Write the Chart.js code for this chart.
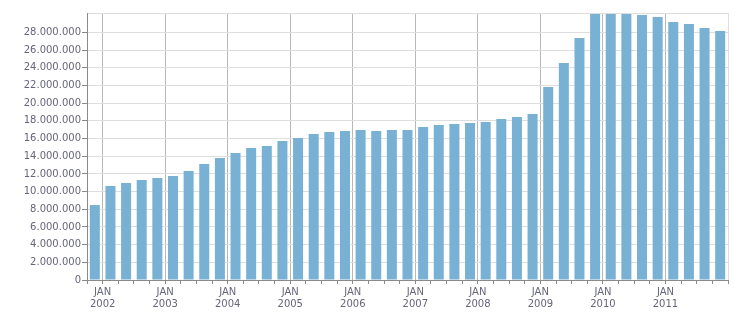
<!DOCTYPE html>
<html>
<head>
<meta charset="utf-8">
<style>
  html, body { margin: 0; padding: 0; background: #fff; }
  #wrap { width: 751px; height: 313px; }
</style>
<script src="https://cdn.jsdelivr.net/npm/chart.js@4/dist/chart.umd.min.js"></script>
</head>
<body>
<div id="wrap"><canvas id="chart" width="751" height="313"></canvas></div>
<script>
// Quarterly values, Q4 2001 .. Q4 2011
const quarters = [
  '2001 Q4',
  '2002 Q1', '2002 Q2', '2002 Q3', '2002 Q4',
  '2003 Q1', '2003 Q2', '2003 Q3', '2003 Q4',
  '2004 Q1', '2004 Q2', '2004 Q3', '2004 Q4',
  '2005 Q1', '2005 Q2', '2005 Q3', '2005 Q4',
  '2006 Q1', '2006 Q2', '2006 Q3', '2006 Q4',
  '2007 Q1', '2007 Q2', '2007 Q3', '2007 Q4',
  '2008 Q1', '2008 Q2', '2008 Q3', '2008 Q4',
  '2009 Q1', '2009 Q2', '2009 Q3', '2009 Q4',
  '2010 Q1', '2010 Q2', '2010 Q3', '2010 Q4',
  '2011 Q1', '2011 Q2', '2011 Q3', '2011 Q4'
];

const values = [
  8480000,
  10630000, 10970000, 11310000, 11540000,
  11760000, 12330000, 13120000, 13800000,
  14360000, 14930000, 15160000, 15720000,
  16060000, 16510000, 16740000, 16850000,
  16970000, 16850000, 16970000, 16970000,
  17310000, 17530000, 17650000, 17760000,
  17870000, 18210000, 18440000, 18780000,
  21830000, 24540000, 27370000, 30100000,
  30100000, 30100000, 29970000, 29750000,
  29180000, 28960000, 28500000, 28160000
];

const yTicks = [0, 2000000, 4000000, 6000000, 8000000, 10000000, 12000000, 14000000,
  16000000, 18000000, 20000000, 22000000, 24000000, 26000000, 28000000];
const yMax = 30200000;

const monthLabel = 'JAN';
const xMin = 2001.75;
const xMax = 2012.0;

// quarter string -> middle of the quarter, in years
function quarterMid(q) {
  const parts = q.split(' Q');
  return Number(parts[0]) + (Number(parts[1]) - 1) / 4 + 0.125;
}

function fmt(v) {
  return String(v).replace(/\B(?=(\d{3})+(?!\d))/g, '.');
}

const points = quarters.map((q, i) => ({ x: quarterMid(q), y: values[i] }));

const textColor = '#66667a';
const font = { family: 'DejaVu Sans', size: 10 };

new Chart(document.getElementById('chart').getContext('2d'), {
  type: 'bar',
  data: {
    datasets: [{
      data: points,
      backgroundColor: '#78b1d3',
      borderWidth: 0,
      barPercentage: 0.64,
      categoryPercentage: 1
    }]
  },
  options: {
    responsive: false,
    animation: false,
    layout: { padding: { top: 13, right: 23, left: 0, bottom: 0 } },
    plugins: { legend: { display: false }, tooltip: { enabled: false } },
    scales: {
      x: {
        type: 'linear',
        offset: false,
        min: xMin,
        max: xMax,
        afterBuildTicks: function (scale) {
          const t = [];
          for (let v = xMin; v <= xMax + 1e-9; v += 0.25) t.push({ value: Math.round(v * 100) / 100 });
          scale.ticks = t;
        },
        afterFit: function (scale) { scale.height = 33; },
        ticks: {
          autoSkip: false,
          maxRotation: 0,
          minRotation: 0,
          padding: 2,
          color: textColor,
          font: font,
          callback: function (v) {
            return Number.isInteger(v) && v < xMax ? [monthLabel, String(v)] : '';
          }
        },
        grid: {
          offset: false,
          color: function (ctx) {
            const v = ctx.tick ? ctx.tick.value : null;
            if (v === xMax) return '#dedede';
            return Number.isInteger(v) ? '#b8b8b8' : 'rgba(0,0,0,0)';
          },
          tickColor: '#8a8a8a',
          tickLength: 4
        },
        border: { color: '#8a8a8a' }
      },
      y: {
        min: 0,
        max: yMax,
        afterBuildTicks: function (scale) {
          scale.ticks = yTicks.concat([yMax]).map(v => ({ value: v }));
        },
        afterFit: function (scale) { scale.width = 87; },
        ticks: {
          padding: 1,
          color: textColor,
          font: font,
          callback: function (v) { return v < yMax ? fmt(v) : ''; }
        },
        grid: {
          color: '#dedede',
          tickColor: function (ctx) { return ctx.tick && ctx.tick.value === yMax ? 'rgba(0,0,0,0)' : '#8a8a8a'; },
          tickLength: 5
        },
        border: { color: '#8a8a8a' }
      }
    }
  }
});
</script>
</body>
</html>
